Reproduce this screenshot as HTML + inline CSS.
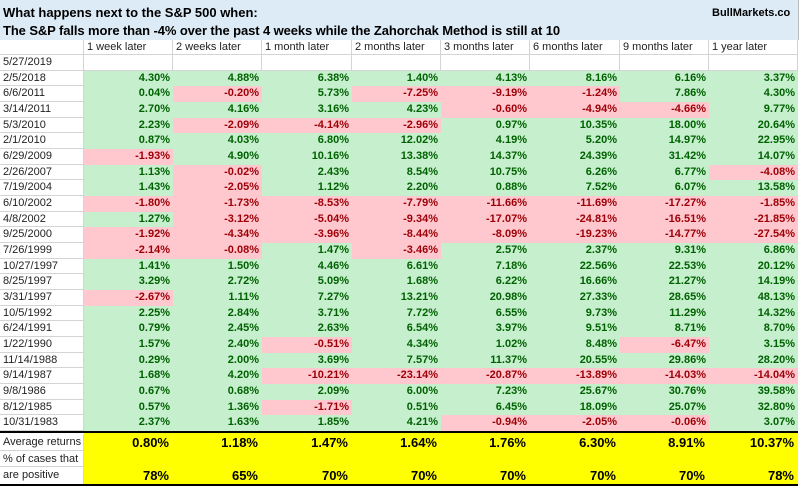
<!DOCTYPE html>
<html><head><meta charset="utf-8">
<style>
body{margin:0;width:800px;height:486px;overflow:hidden;background:#fff;font-family:"Liberation Sans",sans-serif;}
#wrap{position:relative;width:800px;height:486px;}
.c{position:absolute;box-sizing:border-box;font-size:11px;line-height:15px;white-space:nowrap;overflow:hidden;}
.t{position:absolute;font-weight:bold;font-size:13px;color:#000;white-space:nowrap;}
</style></head><body>
<div id="wrap">
<div style="position:absolute;left:0;top:0;width:798px;height:40px;background:#ddebf7;border-right:1px solid #bbb;"></div>
<div class="t" style="left:3px;top:5px;">What happens next to the S&amp;P 500 when:</div>
<div class="t" style="left:3px;top:23px;letter-spacing:-0.1px;">The S&amp;P falls more than -4% over the past 4 weeks while the Zahorchak Method is still at 10</div>
<div class="t" style="left:712px;top:7px;font-size:11px;">BullMarkets.co</div>
</div>
<script>
const headers=["1 week later","2 weeks later","1 month later","2 months later","3 months later","6 months later","9 months later","1 year later"];
const dates=["5/27/2019","2/5/2018","6/6/2011","3/14/2011","5/3/2010","2/1/2010","6/29/2009","2/26/2007","7/19/2004","6/10/2002","4/8/2002","9/25/2000","7/26/1999","10/27/1997","8/25/1997","3/31/1997","10/5/1992","6/24/1991","1/22/1990","11/14/1988","9/14/1987","9/8/1986","8/12/1985","10/31/1983"];
const values=[
null,
[4.30,4.88,6.38,1.40,4.13,8.16,6.16,3.37],
[0.04,-0.20,5.73,-7.25,-9.19,-1.24,7.86,4.30],
[2.70,4.16,3.16,4.23,-0.60,-4.94,-4.66,9.77],
[2.23,-2.09,-4.14,-2.96,0.97,10.35,18.00,20.64],
[0.87,4.03,6.80,12.02,4.19,5.20,14.97,22.95],
[-1.93,4.90,10.16,13.38,14.37,24.39,31.42,14.07],
[1.13,-0.02,2.43,8.54,10.75,6.26,6.77,-4.08],
[1.43,-2.05,1.12,2.20,0.88,7.52,6.07,13.58],
[-1.80,-1.73,-8.53,-7.79,-11.66,-11.69,-17.27,-1.85],
[1.27,-3.12,-5.04,-9.34,-17.07,-24.81,-16.51,-21.85],
[-1.92,-4.34,-3.96,-8.44,-8.09,-19.23,-14.77,-27.54],
[-2.14,-0.08,1.47,-3.46,2.57,2.37,9.31,6.86],
[1.41,1.50,4.46,6.61,7.18,22.56,22.53,20.12],
[3.29,2.72,5.09,1.68,6.22,16.66,21.27,14.19],
[-2.67,1.11,7.27,13.21,20.98,27.33,28.65,48.13],
[2.25,2.84,3.71,7.72,6.55,9.73,11.29,14.32],
[0.79,2.45,2.63,6.54,3.97,9.51,8.71,8.70],
[1.57,2.40,-0.51,4.34,1.02,8.48,-6.47,3.15],
[0.29,2.00,3.69,7.57,11.37,20.55,29.86,28.20],
[1.68,4.20,-10.21,-23.14,-20.87,-13.89,-14.03,-14.04],
[0.67,0.68,2.09,6.00,7.23,25.67,30.76,39.58],
[0.57,1.36,-1.71,0.51,6.45,18.09,25.07,32.80],
[2.37,1.63,1.85,4.21,-0.94,-2.05,-0.06,3.07]];
const averages=[0.80,1.18,1.47,1.64,1.76,6.30,8.91,10.37];
const positivePct=[78,65,70,70,70,70,70,78];

const W=document.getElementById('wrap');
const colX=[0,84,173,262,352,441,530,620,709,798];
const rowTop=i=>55+i*15.67;
function cell(x,y,w,h,css,txt){const d=document.createElement('div');d.className='c';
d.style.cssText+=`left:${x}px;top:${y}px;width:${w}px;height:${h}px;`+css;d.textContent=txt;W.appendChild(d);return d;}
let h=cell(0,40,84,15,'border-right:1px solid #d4d4d4;border-bottom:1px solid #d4d4d4;','');


headers.forEach((t,j)=>{const d=cell(colX[j+1],40,colX[j+2]-colX[j+1],15,'border-right:1px solid #d4d4d4;border-bottom:1px solid #d4d4d4;padding-left:3px;color:#222;',t);

});
dates.forEach((dt,i)=>{const y=rowTop(i),hh=rowTop(i+1)-y;
const d=cell(0,y,84,hh,'border-right:1px solid #d4d4d4;border-bottom:1px solid #d4d4d4;padding-left:3px;line-height:'+hh+'px;color:#222;',dt);


for(let j=0;j<8;j++){const v=values[i]?values[i][j]:null;
let css='line-height:'+hh+'px;text-align:right;padding-right:3px;font-weight:bold;';
let txt='';
if(v===null){css+='border-right:1px solid #d4d4d4;border-bottom:1px solid #d4d4d4;';}
else if(v>=0){css+='background:#c6efce;color:#006100;';txt=v.toFixed(2)+'%';}
else{css+='background:#ffc7ce;color:#9c0006;';txt=v.toFixed(2)+'%';}
const c=cell(colX[j+1],y,colX[j+2]-colX[j+1],hh,css,txt);

}});
const sy=rowTop(dates.length);
const bar=cell(0,sy,798,2,'background:#000;','');


const yb=cell(84,sy+2,714,486-sy-4,'background:#ffff00;','');


const bb=cell(0,484,798,2,'background:#000;','');


const l1=cell(0,sy+3,84,17,'padding-left:3px;color:#222;border-bottom:1px solid #d4d4d4;border-right:1px solid #d4d4d4;line-height:17px;','Average returns');


const l2=cell(0,sy+20,84,16,'padding-left:3px;color:#222;border-right:1px solid #d4d4d4;border-bottom:1px solid #d4d4d4;line-height:16px;','% of cases that');


const l3=cell(0,sy+36,84,17,'padding-left:3px;color:#222;border-right:1px solid #d4d4d4;line-height:17px;','are positive');


averages.forEach((v,j)=>{const c=cell(colX[j+1],sy+3,colX[j+2]-colX[j+1],17,'text-align:right;padding-right:4px;font-weight:bold;font-size:13px;line-height:17px;color:#000;',v.toFixed(2)+'%');

});
positivePct.forEach((v,j)=>{const c=cell(colX[j+1],sy+36,colX[j+2]-colX[j+1],17,'text-align:right;padding-right:4px;font-weight:bold;font-size:13px;line-height:17px;color:#000;',v+'%');

});
</script>
</body></html>
